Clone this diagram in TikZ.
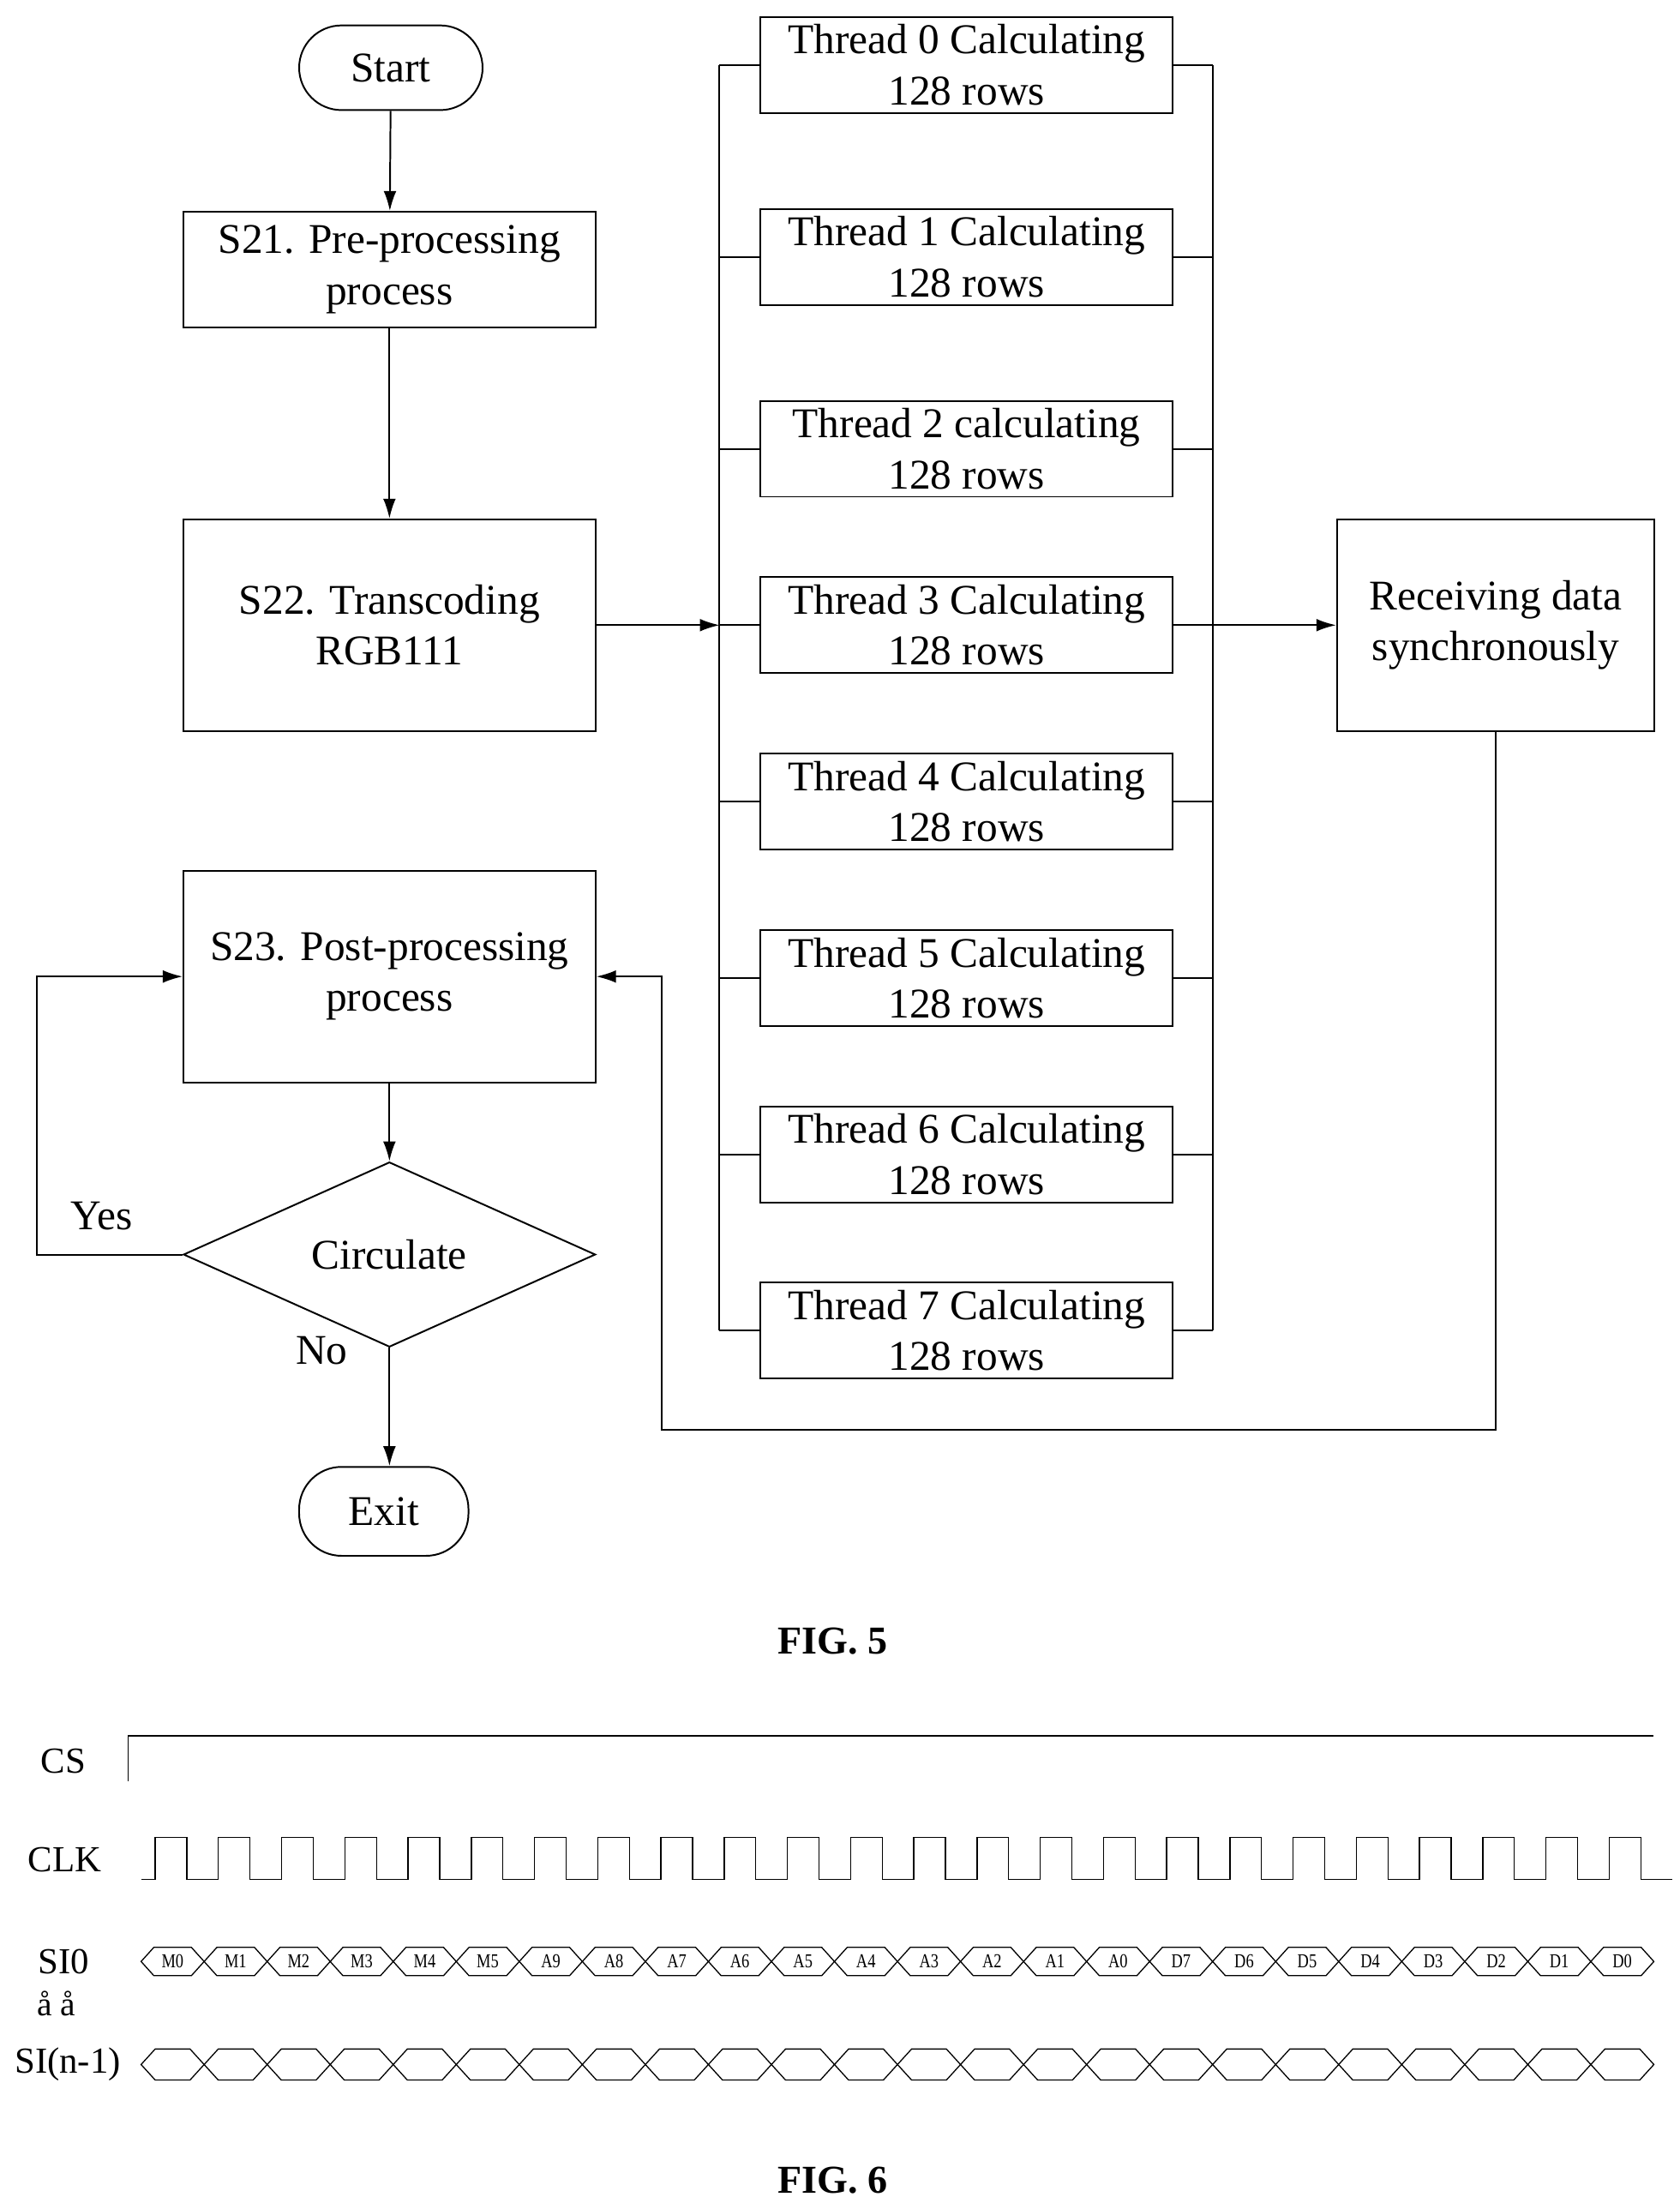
\documentclass[tikz,border=0pt]{standalone}
\usepackage{fontspec}
\setmainfont{Liberation Serif}
\usetikzlibrary{shapes.geometric,arrows.meta}
\begin{document}
\begin{tikzpicture}[x=0.5pt,y=-0.5pt,
  box/.style={draw,line width=0.6pt,align=center,font=\fontsize{15}{18}\selectfont,inner sep=0pt},
  thr/.style={box,minimum width=146pt,minimum height=34pt},
  arr/.style={line width=0.6pt,-{Latex[length=7pt,width=4.5pt]}},
  ln/.style={line width=0.6pt},
  sig/.style={line width=0.4pt},
  lab/.style={font=\fontsize{13}{14}\selectfont},
  hl/.style={font=\fontsize{7}{8}\selectfont,xscale=0.8}]
\useasboundingbox (0,0) rectangle (1190,1565.4);
\node[box,minimum width=65pt,minimum height=30pt,rounded corners=15pt] (start) at (277,48) {Start};
\node[box,minimum width=146pt,minimum height=41pt] (s21) at (276,191) {S21. Pre-processing\\process};
\node[box,minimum width=146pt,minimum height=75pt] (s22) at (276,443) {S22. Transcoding\\RGB111};
\node[box,minimum width=146pt,minimum height=75pt] (s23) at (276,692) {S23. Post-processing\\process};
\node[box,diamond,minimum width=146pt,minimum height=52pt] (dia) at (276,889) {Circulate};
\node[box,minimum width=60pt,minimum height=31.5pt,rounded corners=15pt] (exit) at (272,1071) {Exit};
\node[box,minimum width=112.5pt,minimum height=75pt] (recv) at (1060,443) {Receiving data\\synchronously};
\foreach \i/\y/\c in {0/46/C,1/182/C,2/318/c,3/443/C,4/568/C,5/693/C,6/818/C,7/943/C}
  \node[thr] (t\i) at (685,\y) {Thread \i\ \c alculating\\128 rows};
\foreach \i in {0,...,7}{
  \draw[ln] (t\i.west) -- ++(-29,0);
  \draw[ln] (t\i.east) -- ++(28,0);}
\draw[ln] ([xshift=-14.5pt]t0.west) -- ([xshift=-14.5pt]t7.west);
\draw[ln] ([xshift=14pt]t0.east) -- ([xshift=14pt]t7.east);
\coordinate (bl) at (510,443);
\draw[arr] (start) -- (s21);
\draw[arr] (s21) -- (s22);
\draw[arr] (s22.east) -- (bl);
\draw[arr] (t3.east) -- (recv.west);
\coordinate (c1) at (469,1013);
\draw[arr] (recv.south) |- (c1) |- (s23.east);
\draw[arr] (s23) -- (dia);
\coordinate (c2) at (26,889);
\draw[arr] (dia.west) -- (c2) |- (s23.west);
\draw[arr] (dia.south) -- (dia.south |- exit.north);
\node[box,draw=none] (yes) at (72,862) {Yes};
\node[box,draw=none] (no) at (228,957) {No};
\node[font=\bfseries\fontsize{14}{16}\selectfont] (f5) at (590,1163) {FIG. 5};
% timing
\node[lab] (cs) at (45,1248) {CS};
\node[lab] (clk) at (46,1318) {CLK};
\node[lab] (si0) at (45,1390) {SI0};
\node[font=\fontsize{12}{13}\selectfont] (aa) at (40,1420) {å å};
\node[lab] (sin) at (48,1463) {SI(n-1)};
\node[font=\bfseries\fontsize{14}{16}\selectfont] (f6) at (590,1545) {FIG. 6};
\draw[sig] (91,1262) -- (91,1230) -- (1172,1230);
\draw[sig] (100,1332) -- (110,1332) \foreach \i in {0,...,23} { -- ++(0,-30) -- ++(22.4,0) -- ++(0,30) -- ++(22.4,0)};
\foreach \l [count=\k from 0] in {M0,M1,M2,M3,M4,M5,A9,A8,A7,A6,A5,A4,A3,A2,A1,A0,D7,D6,D5,D4,D3,D2,D1,D0}{
  \pgfmathsetmacro\xa{100+44.67*\k}
  \draw[sig] (\xa,1390) -- ++(9,-10) -- ++(26.67,0) -- ++(9,10) -- ++(-9,10) -- ++(-26.67,0) -- cycle;
  \node[hl] at (\xa+22.3,1390) {\l};
  \draw[sig] (\xa,1463) -- ++(10,-11) -- ++(24.67,0) -- ++(10,11) -- ++(-10,11) -- ++(-24.67,0) -- cycle;
}
\end{tikzpicture}
\end{document}
